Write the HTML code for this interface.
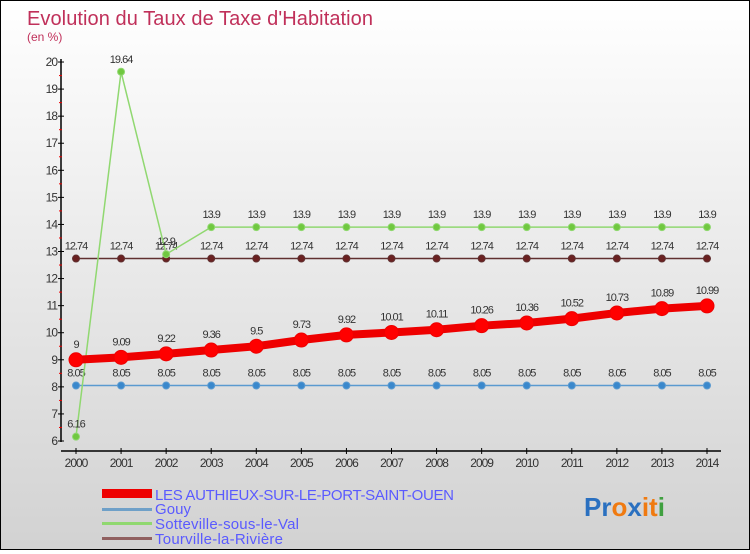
<!DOCTYPE html>
<html><head><meta charset="utf-8"><style>
body{margin:0}
#c{width:748px;height:548px;border:1px solid #000;background:linear-gradient(#fff,#d2d2d2);position:relative;font-family:"Liberation Sans",sans-serif}
</style></head><body>
<div id="c">
<svg id="s" width="748" height="548" xmlns="http://www.w3.org/2000/svg">
<text x="26" y="24" font-size="20" fill="#c0305a" textLength="346">Evolution du Taux de Taxe d'Habitation</text>
<text x="26" y="40" font-size="12" fill="#c0305a">(en %)</text>
<g id="g"></g>
<g>
<rect x="101" y="488" width="50" height="9" fill="#e00"/>
<text x="154" y="499" font-size="15" fill="#5a5aff" textLength="299">LES AUTHIEUX-SUR-LE-PORT-SAINT-OUEN</text>
<rect x="101" y="507" width="50" height="3" fill="#6fa0c8"/>
<text x="154" y="513" font-size="15" fill="#5a5aff" textLength="36">Gouy</text>
<rect x="101" y="521" width="50" height="3" fill="#90d870"/>
<text x="154" y="528" font-size="15" fill="#5a5aff" textLength="144">Sotteville-sous-le-Val</text>
<rect x="101" y="536" width="50" height="3" fill="#906060"/>
<text x="154" y="543" font-size="15" fill="#5a5aff" textLength="128">Tourville-la-Rivière</text>
</g>
<text x="583" y="515" font-size="26" font-weight="bold"><tspan fill="#2a70c0">Pr</tspan><tspan fill="#f07a10">o</tspan><tspan fill="#2a70c0">x</tspan><tspan fill="#f07a10">it</tspan><tspan fill="#40a040">i</tspan></text>
</svg>
</div>
<script>
const years=[2000,2001,2002,2003,2004,2005,2006,2007,2008,2009,2010,2011,2012,2013,2014];
const authieux=[9,9.09,9.22,9.36,9.5,9.73,9.92,10.01,10.11,10.26,10.36,10.52,10.73,10.89,10.99];
const gouy=[8.05,8.05,8.05,8.05,8.05,8.05,8.05,8.05,8.05,8.05,8.05,8.05,8.05,8.05,8.05];
const sotteville=[6.16,19.64,12.9,13.9,13.9,13.9,13.9,13.9,13.9,13.9,13.9,13.9,13.9,13.9,13.9];
const tourville=[12.74,12.74,12.74,12.74,12.74,12.74,12.74,12.74,12.74,12.74,12.74,12.74,12.74,12.74,12.74];
const yTicks=[6,7,8,9,10,11,12,13,14,15,16,17,18,19,20];
const NS='http://www.w3.org/2000/svg';
const g=document.getElementById('g');
const X=i=>75+i*(631/(years.length-1));
const Y=v=>440-(v-6)*27.07;
function mk(t,a){const e=document.createElementNS(NS,t);for(const k in a)e.setAttribute(k,a[k]);g.appendChild(e);return e;}
let ax=mk('line',{x1:60,y1:58,x2:60,y2:441,stroke:'#000','stroke-width':1.5});


let bx=mk('line',{x1:60,y1:450,x2:720,y2:450,stroke:'#000','stroke-width':1.5});


yTicks.forEach(v=>{
  mk('line',{x1:57,y1:Y(v),x2:63,y2:Y(v),stroke:'#000'});
  if(v<20)mk('line',{x1:58,y1:Y(v+0.5),x2:61,y2:Y(v+0.5),stroke:'#e00'});
  const t=mk('text',{x:56,y:Y(v)+4,'font-size':12,'text-anchor':'end',fill:'#333','letter-spacing':'-1'});
  t.textContent=v;
  
  
});
years.forEach((yr,i)=>{
  mk('line',{x1:X(i),y1:447,x2:X(i),y2:453,stroke:'#000'});
  const t=mk('text',{x:X(i),y:466,'font-size':12,'text-anchor':'middle',fill:'#333','letter-spacing':'-1'});
  t.textContent=yr;
  
  
});
function series(data,name,col,w,r,dot){
  const p=mk('polyline',{points:data.map((v,i)=>X(i)+','+Y(v)).join(' '),fill:'none',stroke:col,'stroke-width':w});
  
  
  data.forEach((v,i)=>{
    const c=mk('circle',{cx:X(i),cy:Y(v),r:r,fill:dot,stroke:col,'stroke-width':1});
    
    
    const t=mk('text',{x:X(i),y:Y(v)-9-(r>5?3:0),'font-size':11,'text-anchor':'middle',fill:'#333','letter-spacing':'-1'});
    t.textContent=v;
    
    
  });
}
series(gouy,'gouy','#5a9ad0',1.5,3.5,'#3a88cc');
series(tourville,'tourville','#603030',1.5,3.5,'#6a2020');
series(sotteville,'sotteville','#90d870',1.5,3.5,'#70c840');
series(authieux,'authieux','#e00',8,7,'#f00');
</script>
</body></html>
